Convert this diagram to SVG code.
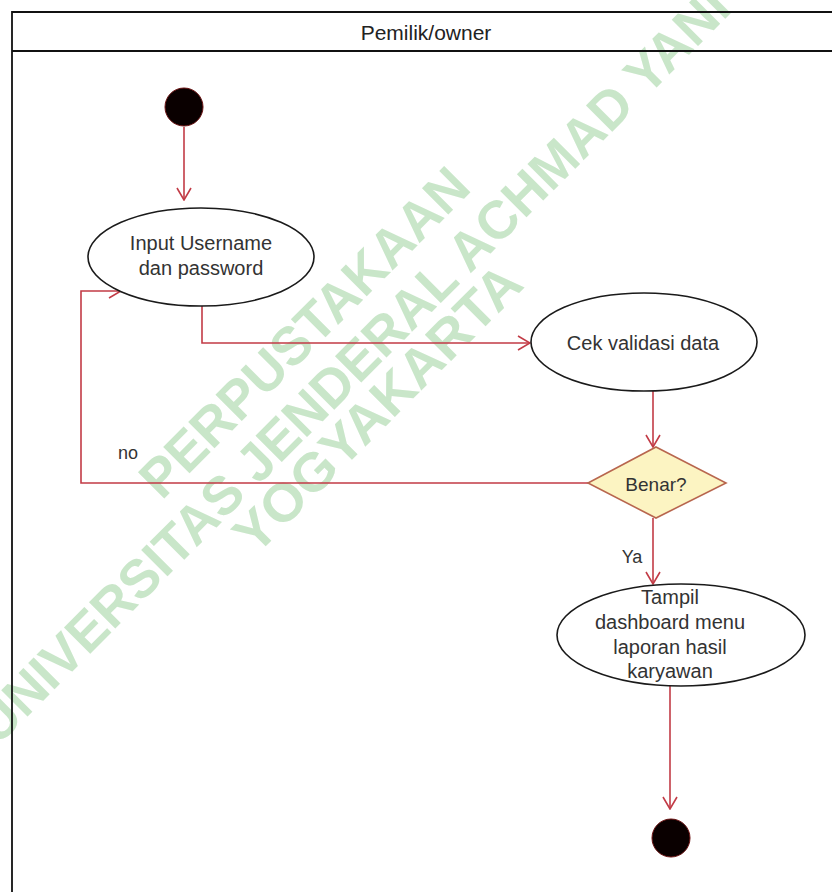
<svg xmlns="http://www.w3.org/2000/svg" width="832" height="892" viewBox="0 0 832 892">
<style>
  .wm { font-family: "Liberation Sans", Arial, sans-serif; font-weight: bold; font-size: 54px; fill: #c9e6c9; text-anchor: middle; dominant-baseline: central; }
  .lbl { font-family: "Liberation Sans", Arial, sans-serif; font-size: 20px; fill: #333333; text-anchor: middle; dominant-baseline: central; }
  .edge-lbl { font-family: "Liberation Sans", Arial, sans-serif; font-size: 18px; fill: #333333; text-anchor: middle; dominant-baseline: central; }
  .title { font-family: "Liberation Sans", Arial, sans-serif; font-size: 21px; fill: #222222; text-anchor: middle; dominant-baseline: central; }
  .act { fill: #ffffff; stroke: #1a1a1a; stroke-width: 1.6; }
  .dot { fill: #0a0000; stroke: #6a1010; stroke-width: 1; }
  .conn { fill: none; stroke: #c23b46; stroke-width: 1.6; }
</style>
<defs>
  <marker id="arr" viewBox="0 0 14 16" refX="13" refY="8" markerWidth="14" markerHeight="16" markerUnits="userSpaceOnUse" orient="auto">
    <path d="M1,1 L13,8 L1,15" fill="none" stroke="#c23b46" stroke-width="1.6"/>
  </marker>
</defs>
<rect x="0" y="0" width="832" height="892" fill="#ffffff"/>

<g id="watermark">
  <text class="wm" transform="translate(304,332) rotate(-45)" textLength="440" lengthAdjust="spacingAndGlyphs">PERPUSTAKAAN</text>
  <text class="wm" transform="translate(352,365) rotate(-45)" textLength="1040" lengthAdjust="spacingAndGlyphs">UNIVERSITAS JENDERAL ACHMAD YANI</text>
  <text class="wm" transform="translate(377,408) rotate(-45)" textLength="382" lengthAdjust="spacingAndGlyphs">YOGYAKARTA</text>
</g>

<g id="swimlane">
  <path d="M832,12 H12 V892" fill="none" stroke="#111111" stroke-width="1.8"/>
  <line x1="12" y1="51" x2="832" y2="51" stroke="#111111" stroke-width="1.8"/>
  <text class="title" x="426" y="32">Pemilik/owner</text>
</g>

<g id="connectors">
  <line class="conn" x1="184" y1="127" x2="184" y2="200" marker-end="url(#arr)"/>
  <path class="conn" d="M202,306 V343 H530" marker-end="url(#arr)"/>
  <line class="conn" x1="653" y1="391" x2="653" y2="447" marker-end="url(#arr)"/>
  <path class="conn" d="M588,483 H81 V291 H121" marker-end="url(#arr)"/>
  <line class="conn" x1="653" y1="518" x2="653" y2="584" marker-end="url(#arr)"/>
  <line class="conn" x1="670" y1="674" x2="670" y2="809" marker-end="url(#arr)"/>
  <text class="edge-lbl" x="128" y="453">no</text>
  <text class="edge-lbl" x="632" y="557">Ya</text>
</g>

<g id="start">
  <circle class="dot" cx="184" cy="107" r="19"/>
</g>

<g id="input">
  <ellipse class="act" cx="201" cy="257" rx="113" ry="49"/>
  <text class="lbl" x="201" y="243">Input Username</text>
  <text class="lbl" x="201" y="268">dan password</text>
</g>

<g id="cek">
  <ellipse class="act" cx="644" cy="342" rx="113" ry="49"/>
  <text class="lbl" x="643" y="343">Cek validasi data</text>
</g>

<g id="benar">
  <polygon points="656,447 726,483 656,518 588,483" fill="#fcf4c2" stroke="#b8664e" stroke-width="1.6"/>
  <text class="lbl" x="656" y="484" style="font-size:19px">Benar?</text>
</g>

<g id="tampil">
  <ellipse class="act" cx="681" cy="635" rx="124" ry="51"/>
  <text class="lbl" x="670" y="597">Tampil</text>
  <text class="lbl" x="670" y="622">dashboard menu</text>
  <text class="lbl" x="670" y="647">laporan hasil</text>
  <text class="lbl" x="670" y="671">karyawan</text>
</g>

<g id="end">
  <circle class="dot" cx="671" cy="838" r="19"/>
</g>
</svg>
